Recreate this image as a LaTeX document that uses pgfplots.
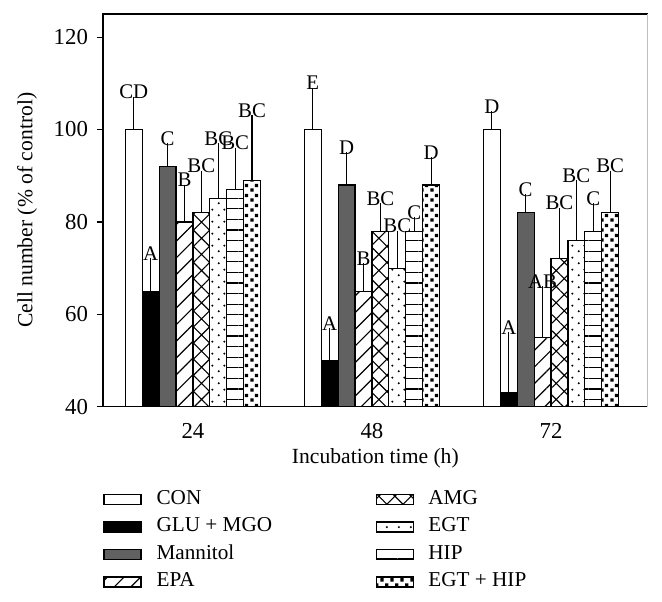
\documentclass[border=0pt]{standalone}
\usepackage{fontspec}
\setmainfont{Liberation Serif}
\usepackage{pgfplots}
\usepackage{pgfplotstable}
\pgfplotsset{compat=1.18}
\usetikzlibrary{patterns.meta}

\tikzdeclarepattern{
  name=egtdots, type=colored,
  bottom left={(0pt,0pt)}, top right={(6pt,6pt)}, tile size={(6pt,6pt)},
  code={\fill[black] (1.5pt,1.5pt) circle (0.6pt); \fill[black] (4.5pt,4.5pt) circle (0.6pt);}
}
\tikzdeclarepattern{
  name=egthip, type=colored,
  bottom left={(0pt,0pt)}, top right={(5pt,5pt)}, tile size={(5pt,5pt)},
  code={\fill[black] (0.2pt,0.2pt) rectangle (2.0pt,2.0pt); \fill[black] (2.7pt,2.7pt) rectangle (4.5pt,4.5pt);}
}

\pgfplotstableread{
x y e l
1 100 6 CD
2 100 8 E
3 100 3 D
}\tcon
\pgfplotstableread{
x y e l
1 65 6 A
2 50 6 A
3 43 12 A
}\tglu
\pgfplotstableread{
x y e l
1 92 4 C
2 88 6 D
3 82 3 C
}\tman
\pgfplotstableread{
x y e l
1 80 7 B
2 65 5 B
3 55 10 AB
}\tepa
\pgfplotstableread{
x y e l
1 82 8 BC
2 78 5 BC
3 72 10 BC
}\tamg
\pgfplotstableread{
x y e l
1 85 11 BC
2 70 7 BC
3 76 12 BC
}\tegt
\pgfplotstableread{
x y e l
1 87 8 BC
2 78 2 C
3 78 5 C
}\thip
\pgfplotstableread{
x y e l
1 89 13 BC
2 88 5 D
3 82 8 BC
}\tegthip

\begin{document}
\begin{tikzpicture}
\begin{axis}[
  name=ax, at={(0,0)}, anchor=south west,
  scale only axis, width=272.35pt, height=196.35pt,
  xmin=0.4978, xmax=3.54, ymin=40, ymax=125,
  enlargelimits=false, clip=false,
  ybar=0pt, bar width=8.45pt,
  ytick={40,60,80,100,120}, ytick pos=left,
  tick align=outside, major tick length=3pt,
  xtick={1,2,3}, xticklabels={24,48,72},
  x tick style={draw=none},
  y tick style={line width=0.6pt, black},
  axis line style={line width=0.7pt, black},
  /pgf/number format/assume math mode=true,
  ticklabel style={font=\fontsize{11.4}{13}\selectfont},
  yticklabel style={xshift=-1pt},
  xticklabel style={yshift=-2pt},
  ylabel={Cell number (\% of control)},
  xlabel={Incubation time (h)},
  every axis y label/.style={at={(axis description cs:-0.1395,0.5)}, rotate=90, anchor=center, font=\fontsize{10.8}{12}\selectfont},
  every axis x label/.style={at={(axis description cs:0.5,-0.1324)}, anchor=center, font=\fontsize{10.8}{12}\selectfont},
  nodes near coords, point meta=explicit symbolic,
  visualization depends on={\thisrow{e} \as \errv},
  every node near coord/.append style={anchor=south, inner sep=1pt, yshift=\errv*2.31pt, font=\fontsize{10.4}{11}\selectfont, text=black},
  every axis plot/.append style={draw=black, line width=0.6pt},
  error bars/y dir=plus, error bars/y explicit,
  error bars/error bar style={line width=0.6pt, black},
  error bars/error mark options={mark size=2.5pt, line width=0.6pt, black},
  legend image code/.code={\draw[#1, line width=0.6pt] (0pt,-2.5pt) rectangle (18.5pt,2.5pt);},
  legend columns=4, transpose legend,
  legend style={at={(axis description cs:0,-0.2096)}, anchor=north west, draw=none, inner sep=0pt,
     font=\fontsize{10.6}{12}\selectfont,
     nodes={inner sep=0pt, text height=7.5pt, text depth=2.5pt, anchor=west},
     row sep=3.75pt,
     /tikz/column 1/.style={column sep=7.5pt},
     /tikz/column 2/.style={column sep=52pt},
     /tikz/column 3/.style={column sep=7pt}},
  legend cell align=left,
]
\addplot[fill=white] table[x=x, y=y, y error=e, meta=l] {\tcon};
\addlegendentry{CON}
\addplot[fill=black] table[x=x, y=y, y error=e, meta=l] {\tglu};
\addlegendentry{GLU + MGO}
\addplot[fill=black!62] table[x=x, y=y, y error=e, meta=l] {\tman};
\addlegendentry{Mannitol}
\addplot[pattern={Lines[angle=45, distance=5.9pt, line width=0.6pt]}] table[x=x, y=y, y error=e, meta=l] {\tepa};
\addlegendentry{EPA}
\addplot[pattern={Hatch[angle=45, distance=5.7pt, line width=0.55pt]}] table[x=x, y=y, y error=e, meta=l] {\tamg};
\addlegendentry{AMG}
\addplot[pattern=egtdots] table[x=x, y=y, y error=e, meta=l] {\tegt};
\addlegendentry{EGT}
\addplot[pattern={Lines[angle=0, distance=5.3pt, line width=0.6pt]}] table[x=x, y=y, y error=e, meta=l] {\thip};
\addlegendentry{HIP}
\addplot[pattern=egthip] table[x=x, y=y, y error=e, meta=l] {\tegthip};
\addlegendentry{EGT + HIP}
\end{axis}
\draw[black!25, line width=0.7pt] (ax.south east) -- (ax.north east);
\pgfresetboundingbox
\useasboundingbox (ax.south west) ++(-51.5pt,-97.15pt) rectangle ++(331pt,300.5pt);
\end{tikzpicture}
\end{document}
